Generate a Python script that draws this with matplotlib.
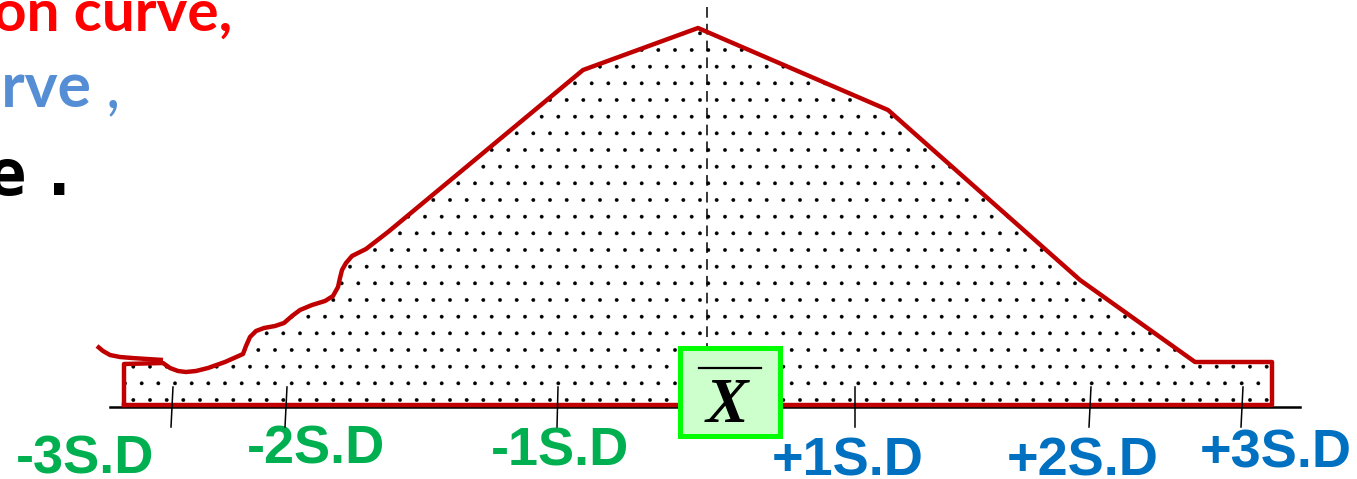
import matplotlib
matplotlib.use("Agg")
import matplotlib.pyplot as plt
from matplotlib.patches import Polygon, Rectangle

# outline of the shaded curve (pixel coordinates of the picture)
curve_x = [124, 124, 163, 170, 178, 186, 196, 208, 225, 243, 246, 250, 256, 264, 275,
           284, 292, 300, 312, 325, 333, 338, 340, 342, 346, 352, 358, 366, 388,
           583, 698, 888, 1080, 1195, 1272, 1272]
curve_y = [405, 364, 363, 368, 371, 372, 371, 368, 362, 354, 346, 337, 331, 328, 326,
           323, 316, 310, 305, 301, 296, 287, 278, 270, 263, 256, 253, 249, 232,
           70, 28, 110, 280, 362, 362, 405]

# loose tail at the left end
tail_x = [97, 103, 110, 120, 132, 147, 163]
tail_y = [346, 351, 355, 357, 358, 359, 360]

# labels under the axis
sd_labels = ["-3S.D", "-2S.D", "-1S.D", "+1S.D", "+2S.D", "+3S.D"]
sd_label_x = [85, 316, 560, 848, 1083, 1276]
sd_label_y = [474, 464, 466, 475, 475, 468]
sd_colors = ["#00b050", "#00b050", "#00b050", "#0070c0", "#0070c0", "#0070c0"]

# tick marks (top x, bottom x)
tick_top = [173, 287, 558, 855, 1091, 1243]
tick_bot = [171, 285, 557, 855, 1089, 1241]

W, H = 1357, 479
plt.rcParams["hatch.color"] = "black"
plt.rcParams["hatch.linewidth"] = 0.3
fig = plt.figure(figsize=(W / 100, H / 100), dpi=100)
ax = fig.add_axes([0, 0, 1, 1])
ax.set_xlim(0, W)
ax.set_ylim(H, 0)
ax.axis("off")

# dotted fill
fill = Polygon(list(zip(curve_x, curve_y)), closed=True, facecolor="white",
               edgecolor="black", linewidth=0, hatch=".", zorder=1)
ax.add_patch(fill)

# axis line
ax.plot([110, 1300], [407, 407], color="black", lw=1.8, zorder=2)

# red outline
ax.plot(curve_x + [curve_x[0]], curve_y + [curve_y[0]], color="#c00000", lw=3.2,
        solid_joinstyle="round", zorder=3)
ax.plot(tail_x, tail_y, color="#c00000", lw=3.2, solid_capstyle="butt", zorder=3)

# mean line
ax.plot([707, 707], [7, 347], color="black", lw=1.1, ls=(0, (7, 4)), zorder=2)

# ticks
for t, b in zip(tick_top, tick_bot):
    ax.plot([t, b], [387, 427], color="black", lw=1.1, zorder=4)

# x-bar box
ax.add_patch(Rectangle((680, 348), 100, 88, facecolor="#ccffcc", edgecolor="#00ff00",
                       lw=3.6, zorder=5))
ax.plot([699, 761], [368, 368], color="black", lw=1.6, zorder=6)
ax.text(727, 422, "X", family="Liberation Serif", style="italic", weight="bold",
        fontsize=46, ha="center", va="baseline", zorder=6)

for lab, x, y, c in zip(sd_labels, sd_label_x, sd_label_y, sd_colors):
    ax.text(x, y, lab, color=c, family="Liberation Sans", weight="bold", fontsize=39,
            ha="center", va="baseline")

# text cut off at the left edge
ax.text(232, 31, "on curve,", color="#ff0000", family="Lato", weight="bold",
        fontsize=42, ha="right", va="baseline")
ax.text(92, 107, "urve", color="#558ed5", family="Lato", weight="bold",
        fontsize=45, ha="right", va="baseline")
ax.text(106, 107, ",", color="#558ed5", family="Lato", fontsize=45,
        ha="left", va="baseline")
ax.text(26, 195, "e", color="black", family="DejaVu Sans Mono", weight="bold",
        fontsize=46, ha="right", va="baseline")
ax.text(40, 195, ".", color="black", family="DejaVu Sans Mono", weight="bold",
        fontsize=46, ha="left", va="baseline")

fig.savefig("out.png", dpi=100)
